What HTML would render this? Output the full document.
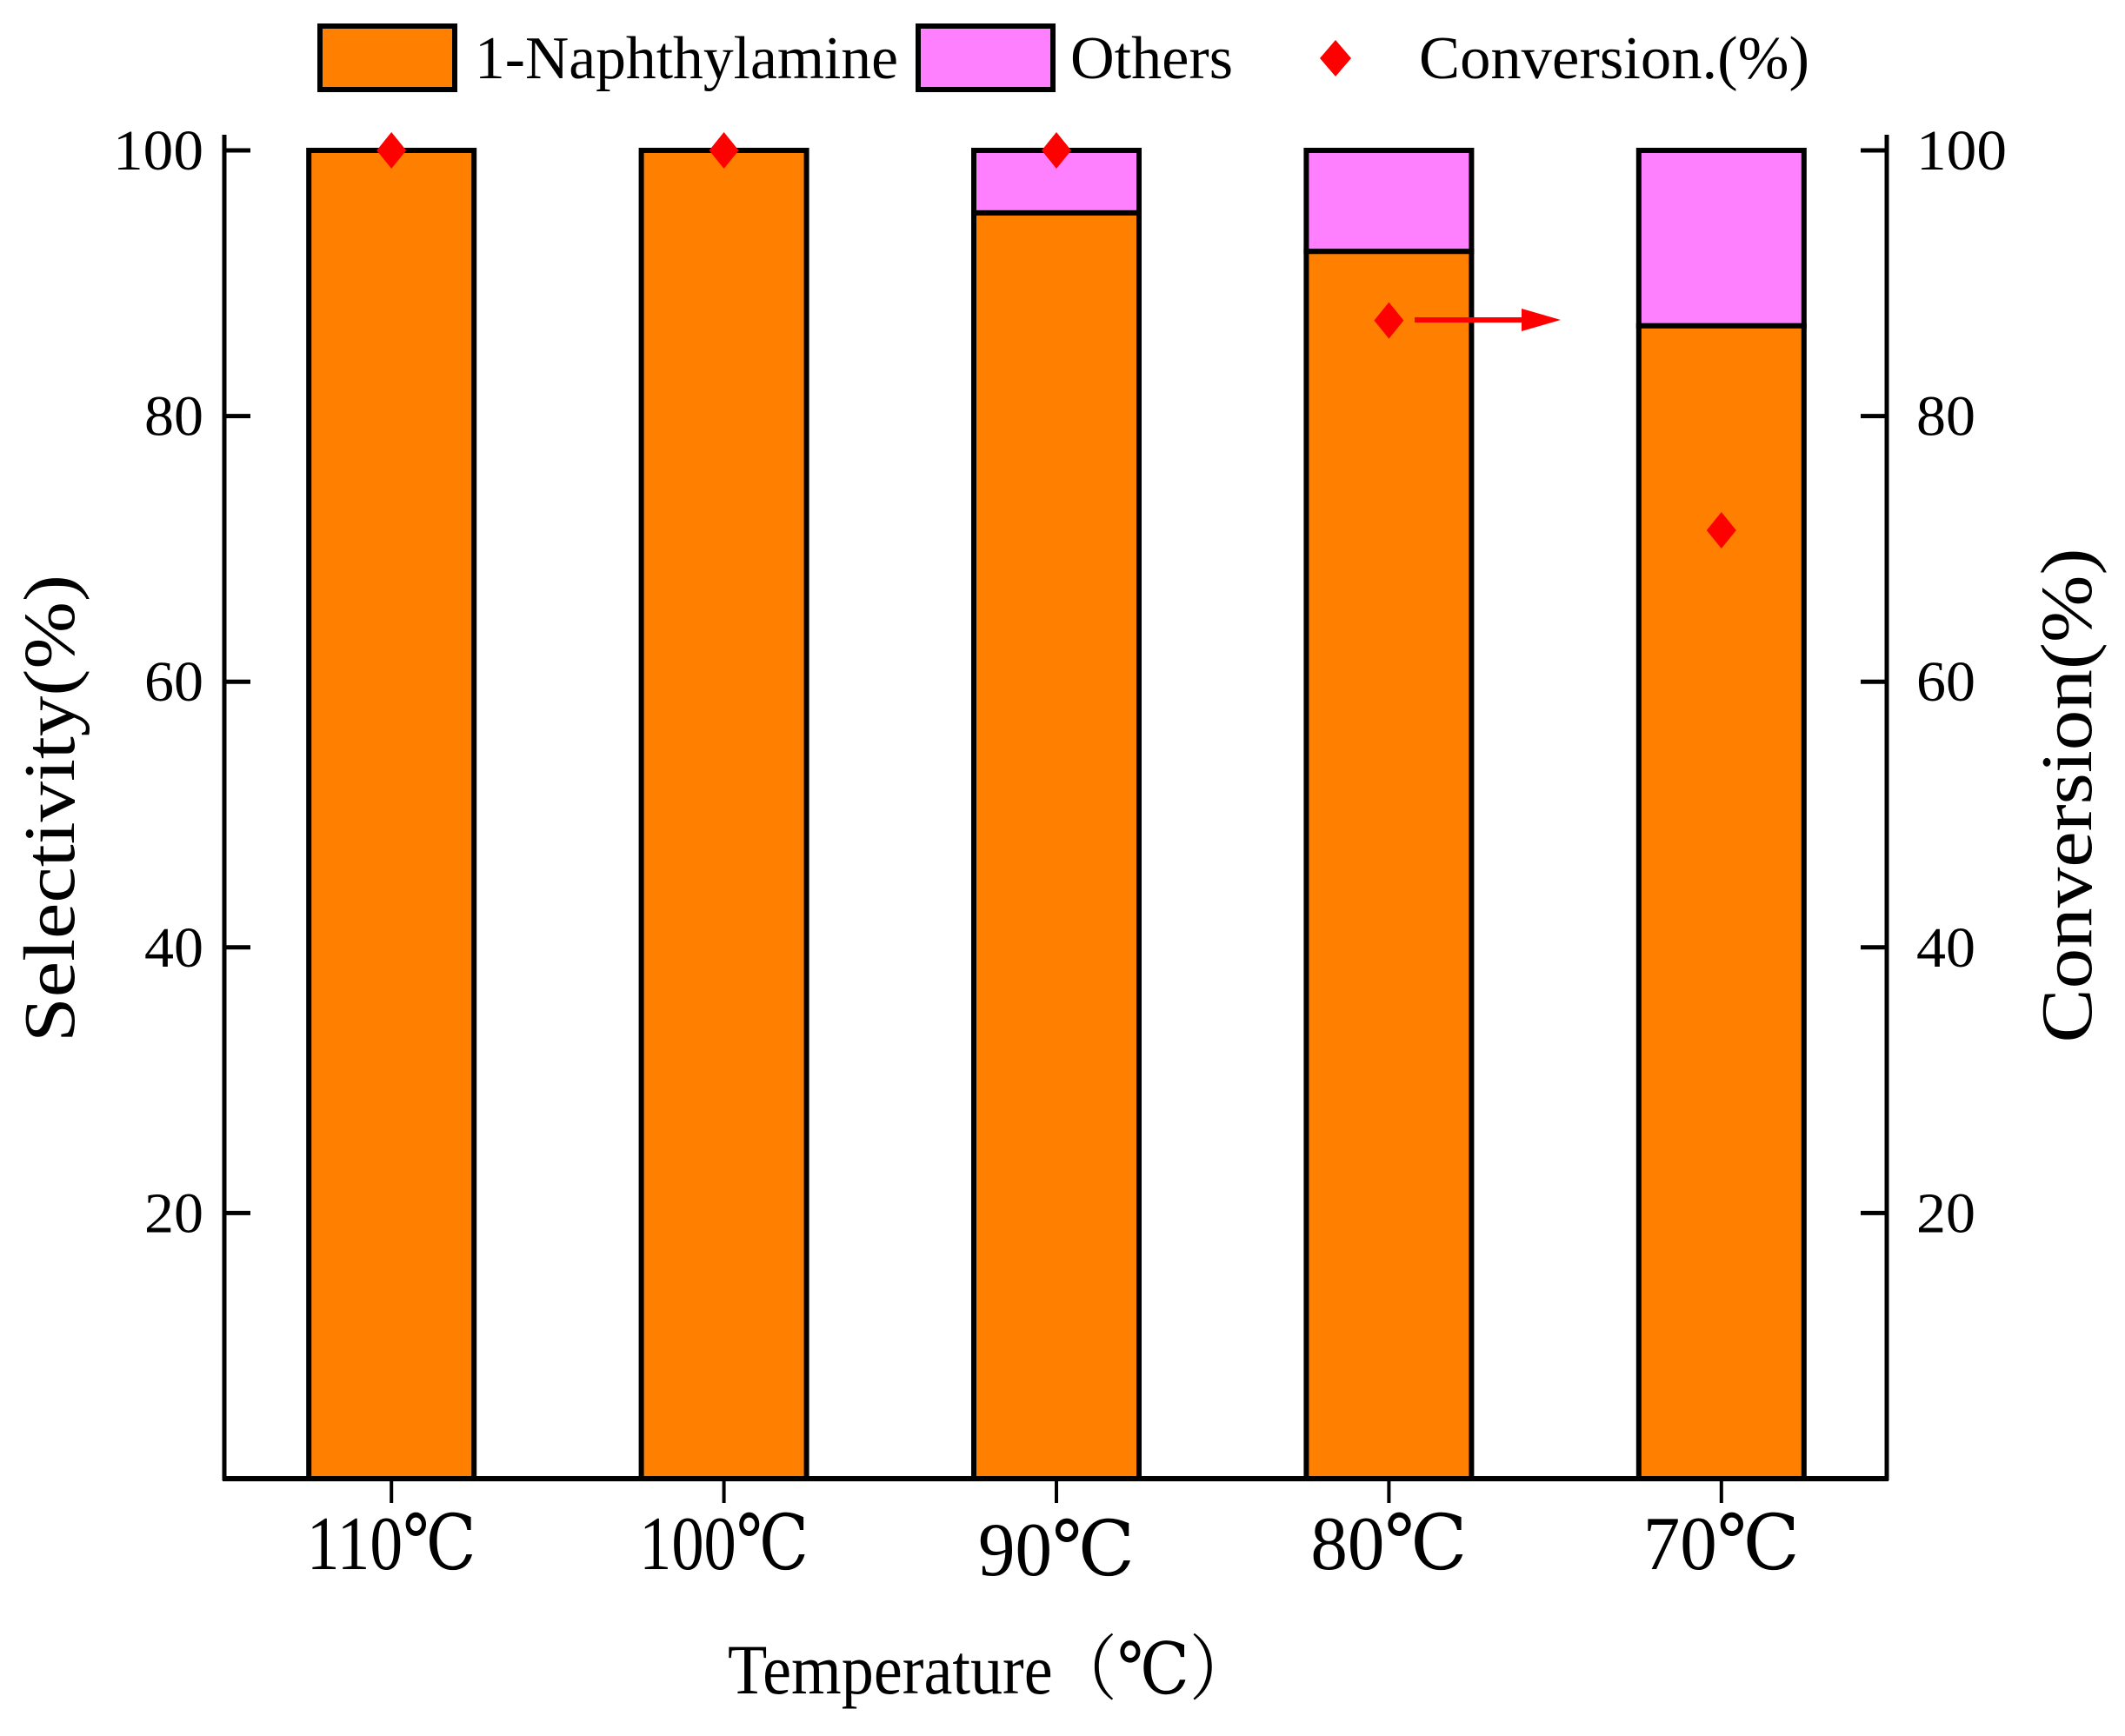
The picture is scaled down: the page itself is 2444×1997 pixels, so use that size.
<!DOCTYPE html>
<html><head><meta charset="utf-8"><style>
html,body{margin:0;padding:0;background:#fff;}
svg{display:block;font-family:"Liberation Serif","DejaVu Serif","Noto Serif CJK SC",serif;}
</style></head><body>
<svg id="chart" width="2444" height="1997" viewBox="0 0 2444 1997" xmlns="http://www.w3.org/2000/svg">
<g id="bars"></g>
<g id="axes"></g>
<g id="points"></g>
<g>
  <rect x="368" y="30" width="155" height="73" fill="#FF8000" stroke="#000" stroke-width="6"/>
  <text x="546" y="90" font-size="70" textLength="487" lengthAdjust="spacingAndGlyphs">1-Naphthylamine</text>
  <rect x="1056" y="30" width="155" height="73" fill="#FF80FF" stroke="#000" stroke-width="6"/>
  <text x="1231" y="90" font-size="70" textLength="187" lengthAdjust="spacingAndGlyphs">Others</text>
  <polygon points="1536,46 1554,67 1536,88 1518,67" fill="#FF0000"/>
  <text x="1632" y="90" font-size="70" textLength="449" lengthAdjust="spacingAndGlyphs">Conversion.(%)</text>
</g>
<text x="837" y="1948" font-size="82" textLength="605" lengthAdjust="spacingAndGlyphs">Temperature（℃）</text>
<text transform="translate(85,930) rotate(-90)" text-anchor="middle" font-size="84" textLength="538" lengthAdjust="spacingAndGlyphs">Selectivity(%)</text>
<text transform="translate(2405,915) rotate(-90)" text-anchor="middle" font-size="84" textLength="569" lengthAdjust="spacingAndGlyphs">Conversion(%)</text>
<g>
  <line x1="1627" y1="368" x2="1760" y2="368" stroke="#FF0000" stroke-width="6"/>
  <polygon points="1750,355 1795,368 1750,381" fill="#FF0000"/>
</g>
</svg>
<script>
const categories = ["110℃","100℃","90℃","80℃","70℃"];
const naphthylamine = [100, 100, 95.3, 92.4, 86.8];
const others = [0, 0, 4.7, 7.6, 13.2];
const conversion = [100, 100, 100, 87.2, 71.4];
const yTicks = [20, 40, 60, 80, 100];

const NS = "http://www.w3.org/2000/svg";
const L = 258, R = 2170, T = 173, B = 1701;
const step = (R - L) / categories.length;
const xc = i => L + step * (i + 0.5) + 1;
const y = v => B - (B - T) * v / 100;
const bw = 190;
function mk(tag, attrs, parent){ const e = document.createElementNS(NS, tag); for (const k in attrs) e.setAttribute(k, attrs[k]); parent.appendChild(e); return e; }
const bars = document.getElementById('bars');
const axes = document.getElementById('axes');
const pts = document.getElementById('points');

categories.forEach((c, i) => {
  const x = xc(i) - bw/2;
  const r1 = mk('rect', {x: x, y: y(naphthylamine[i]), width: bw, height: B - y(naphthylamine[i]), fill: '#FF8000', stroke: '#000', 'stroke-width': 6}, bars);
  
  
  if (others[i] > 0) {
    const top = naphthylamine[i] + others[i];
    const r2 = mk('rect', {x: x, y: y(top), width: bw, height: y(naphthylamine[i]) - y(top), fill: '#FF80FF', stroke: '#000', 'stroke-width': 6}, bars);
    
    
  }
  const tk = mk('line', {x1: xc(i), x2: xc(i), y1: B, y2: B + 28, stroke: '#000', 'stroke-width': 4}, axes);
  
  
  const lw = c.length > 3 ? 195 : 180;
  const t = mk('text', {x: xc(i), y: (i === 2 ? 1812 : 1805), 'text-anchor': 'middle', 'font-size': 88, textLength: lw, lengthAdjust: 'spacingAndGlyphs'}, axes);
  t.textContent = c;
  
  
  const cy = y(conversion[i]);
  const d = mk('polygon', {points: `${xc(i)},${cy-21} ${xc(i)+17},${cy} ${xc(i)},${cy+21} ${xc(i)-17},${cy}`, fill: '#FF0000'}, pts);
  
  
});

const la = mk('line', {x1: L, x2: L, y1: T - 18, y2: B + 2, stroke: '#000', 'stroke-width': 5}, axes);


const ra = mk('line', {x1: R, x2: R, y1: T - 18, y2: B + 2, stroke: '#000', 'stroke-width': 5}, axes);


const ba = mk('line', {x1: L - 2, x2: R + 2, y1: B, y2: B, stroke: '#000', 'stroke-width': 6}, axes);



yTicks.forEach(v => {
  const yy = y(v);
  mk('line', {x1: L, x2: L + 30, y1: yy, y2: yy, stroke: '#000', 'stroke-width': 5}, axes);
  mk('line', {x1: R - 30, x2: R, y1: yy, y2: yy, stroke: '#000', 'stroke-width': 5}, axes);
  const tl = mk('text', {x: 234, y: yy + 22, 'text-anchor': 'end', 'font-size': 66, textLength: v === 100 ? 104 : 68, lengthAdjust: 'spacingAndGlyphs'}, axes);
  tl.textContent = v;
  
  
  const tr = mk('text', {x: 2204, y: yy + 22, 'font-size': 66, textLength: v === 100 ? 104 : 68, lengthAdjust: 'spacingAndGlyphs'}, axes);
  tr.textContent = v;
  
  
});
</script>
</body></html>
